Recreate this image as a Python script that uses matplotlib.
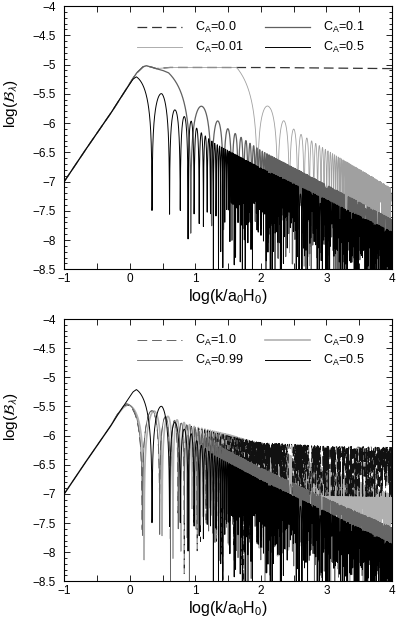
import numpy as np
import matplotlib
matplotlib.use("Agg")
import matplotlib.pyplot as plt
from matplotlib.ticker import MultipleLocator, FuncFormatter

plt.rcParams['font.family'] = ['Liberation Sans', 'DejaVu Sans']
plt.rcParams['mathtext.fontset'] = 'custom'
plt.rcParams['mathtext.rm'] = 'Liberation Sans'
plt.rcParams['mathtext.it'] = 'Liberation Sans:italic'
plt.rcParams['mathtext.sf'] = 'Liberation Sans'
plt.rcParams['lines.scale_dashes'] = False

# ---------------- data ----------------
# x = log(k/a0H0), y = log(B_lambda)
# common rising branch
rise_x = [-1.0, -0.75, -0.5, -0.3]
rise_y = [-7.0, -6.58, -6.17, -5.85]

# --- top panel ---
# C_A = 0.0 (no oscillation)
ca00_x = rise_x + [-0.2, -0.1, 0.0, 0.1, 0.2, 0.25, 0.32, 0.4, 0.5, 0.6, 2.0, 4.0]
ca00_y = rise_y + [-5.68, -5.5, -5.32, -5.15, -5.04, -5.02, -5.04, -5.07, -5.06, -5.05, -5.05, -5.07]
# C_A = 0.01 : envelope (arch tops), start of oscillation in k, period in k
ca001_x = rise_x + [-0.2, -0.1, 0.0, 0.1, 0.2, 0.25, 0.32, 0.4, 0.5, 0.6, 1.63, 2.13, 2.37, 2.52, 2.62, 3.0, 4.0]
ca001_y = rise_y + [-5.68, -5.5, -5.32, -5.15, -5.04, -5.02, -5.04, -5.07, -5.06, -5.05, -5.05, -5.73, -5.98, -6.12, -6.2, -6.46, -7.12]
ca001_kstart, ca001_period = 42.7, 92.0
# C_A = 0.1
ca01_x = rise_x + [-0.2, -0.1, 0.0, 0.1, 0.2, 0.25, 0.32, 0.4, 0.5, 0.59, 1.12, 1.35, 1.5, 1.61, 2.0, 3.0, 4.0]
ca01_y = rise_y + [-5.68, -5.5, -5.32, -5.15, -5.04, -5.02, -5.04, -5.07, -5.1, -5.14, -5.73, -5.97, -6.1, -6.18, -6.47, -7.06, -7.65]
ca01_kstart, ca01_period = 3.9, 9.2
# C_A = 0.5 (both panels)
ca05_x = rise_x + [-0.2, -0.1, 0.0, 0.05, 0.1, 0.49, 0.695, 0.833, 0.94, 1.05, 1.3, 2.0, 3.0, 4.0]
ca05_y = rise_y + [-5.67, -5.5, -5.33, -5.25, -5.21, -5.5, -5.78, -5.89, -5.97, -6.13, -6.35, -6.77, -7.31, -7.86]
ca05_kstart, ca05_period = 1.26, 1.85

# --- bottom panel ---
# C_A = 1.0
ca10_x = rise_x + [-0.2, -0.1, -0.05, 0.3, 0.6, 1.0, 1.5, 2.0, 3.0, 4.0]
ca10_y = rise_y + [-5.65, -5.5, -5.47, -5.56, -5.72, -5.86, -6.0, -6.12, -6.18, -6.2]
ca10_kstart, ca10_period = 0.89, 1.30
ca10_floor_x = [-1.0, 1.6, 2.1, 4.0]
ca10_floor_y = [-6.0, -6.0, -0.85, -0.85]
# C_A = 0.99
ca099_x = rise_x + [-0.2, -0.1, -0.05, 0.3, 0.6, 1.0, 1.4, 2.0, 3.0, 4.0]
ca099_y = rise_y + [-5.65, -5.5, -5.45, -5.55, -5.7, -5.88, -6.2, -6.55, -7.08, -7.57]
ca099_kstart, ca099_period = 0.90, 1.31
# C_A = 0.9
ca09_x = rise_x + [-0.2, -0.1, -0.03, 0.35, 0.7, 1.0, 1.5, 2.0, 3.0, 4.0]
ca09_y = rise_y + [-5.66, -5.52, -5.47, -5.57, -5.72, -5.85, -5.98, -6.15, -6.58, -7.02]
ca09_kstart, ca09_period = 0.93, 1.45

top_labels = ['C$_\\mathrm{A}$=0.0', 'C$_\\mathrm{A}$=0.01', 'C$_\\mathrm{A}$=0.1', 'C$_\\mathrm{A}$=0.5']
bot_labels = ['C$_\\mathrm{A}$=1.0', 'C$_\\mathrm{A}$=0.99', 'C$_\\mathrm{A}$=0.9', 'C$_\\mathrm{A}$=0.5']

# ---------------- curve construction ----------------
xg = np.linspace(-1.0, 4.0, 2500)


def curve(env_x, env_y, kstart=None, period=None, floor_x=None, floor_y=None):
    env = np.interp(xg, env_x, env_y)
    if kstart is None:
        return env
    k = 10.0 ** xg
    osc = np.ones_like(xg)
    m = k > kstart
    osc[m] = np.abs(np.cos(np.pi * (k[m] - kstart) / period))
    d = np.log10(np.maximum(osc, 1e-9))
    if floor_x is not None:
        d = np.maximum(d, np.interp(xg, floor_x, floor_y))
    return env + d


def fmt(v, pos):
    s = '%g' % v
    return s.replace('-', '\u2212')


def style(ax):
    ax.set_xlim(-1, 4)
    ax.set_ylim(-8.5, -4)
    ax.xaxis.set_major_locator(MultipleLocator(1))
    ax.xaxis.set_minor_locator(MultipleLocator(0.5))
    ax.yaxis.set_major_locator(MultipleLocator(0.5))
    ax.yaxis.set_minor_locator(MultipleLocator(0.1))
    ax.xaxis.set_major_formatter(FuncFormatter(fmt))
    ax.yaxis.set_major_formatter(FuncFormatter(fmt))
    ax.tick_params(which='both', direction='in', top=True, right=True, width=0.6, labelsize=8.5)
    ax.tick_params(which='major', length=4.5)
    ax.tick_params(axis='y', which='minor', length=2.5)
    ax.tick_params(axis='x', which='minor', length=4.5)
    ax.tick_params(axis='y', pad=6)
    ax.tick_params(axis='x', pad=3)
    for s in ax.spines.values():
        s.set_linewidth(0.8)
    ax.set_xlabel('log(k/a$_0$H$_0$)', fontsize=11.5)
    ax.set_ylabel('log($\\mathcal{B}_\\lambda$)', fontsize=11, math_fontfamily='stixsans')
    ax.xaxis.set_label_coords(0.5, -0.066)
    ax.yaxis.set_label_coords(-0.136, 0.628)


fig = plt.figure(figsize=(3.99, 6.26), dpi=100)
ax1 = fig.add_axes([0.161, 0.5698, 0.8215, 0.4206])
ax2 = fig.add_axes([0.161, 0.0714, 0.8215, 0.4190])

dash = (0, (7, 3.5))
leg_kw = dict(ncol=2, loc='upper left', bbox_to_anchor=(0.222, 0.947), frameon=False,
              fontsize=9, borderpad=0, borderaxespad=0, handlelength=3.6,
              handletextpad=1.0, columnspacing=1.8, labelspacing=0.4)

# top panel
l00, = ax1.plot(xg, curve(ca00_x, ca00_y), color='#333333', lw=0.9, ls=dash)
l001, = ax1.plot(xg, curve(ca001_x, ca001_y, ca001_kstart, ca001_period), color='#a0a0a0', lw=0.6)
l01, = ax1.plot(xg, curve(ca01_x, ca01_y, ca01_kstart, ca01_period), color='#606060', lw=0.9)
l05, = ax1.plot(xg, curve(ca05_x, ca05_y, ca05_kstart, ca05_period), color='black', lw=0.7)
ax1.legend([l00, l001, l01, l05], top_labels, **leg_kw)
style(ax1)

# bottom panel
m09, = ax2.plot(xg, curve(ca09_x, ca09_y, ca09_kstart, ca09_period), color='#b0b0b0', lw=1.2)
m10, = ax2.plot(xg, curve(ca10_x, ca10_y, ca10_kstart, ca10_period, ca10_floor_x, ca10_floor_y),
                color='#111111', lw=0.45, ls=dash)
m099, = ax2.plot(xg, curve(ca099_x, ca099_y, ca099_kstart, ca099_period), color='#666666', lw=0.6)
m05, = ax2.plot(xg, curve(ca05_x, ca05_y, ca05_kstart, ca05_period), color='black', lw=0.7)
ax2.legend([m10, m099, m09, m05], bot_labels, **leg_kw)
style(ax2)

fig.savefig('out.png', dpi=100)
